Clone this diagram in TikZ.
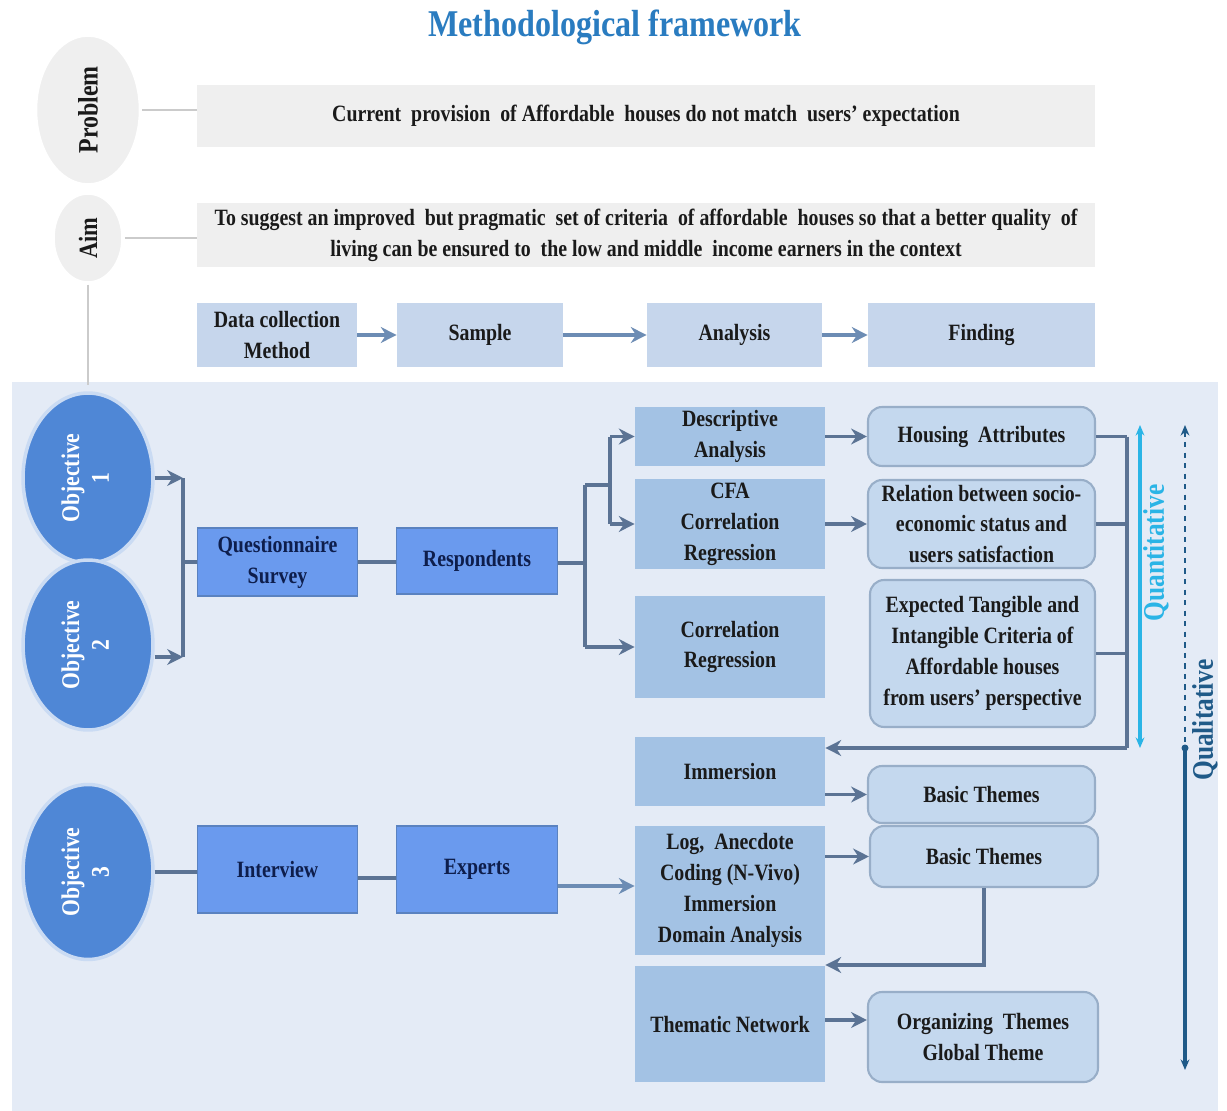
\documentclass[tikz,border=0pt]{standalone}
\usepackage{fontspec}
\setmainfont{Liberation Serif}[FakeStretch=0.85]
\usetikzlibrary{arrows.meta,shapes.geometric,calc}
\definecolor{panel}{HTML}{E4EBF6}
\definecolor{greyfill}{HTML}{EFEFEF}
\definecolor{topfill}{HTML}{C6D6EC}
\definecolor{midfill}{HTML}{A3C2E4}
\definecolor{brightfill}{HTML}{6A9AEE}
\definecolor{brightdraw}{HTML}{5A82C0}
\definecolor{objfill}{HTML}{4F87D6}
\definecolor{rfill}{HTML}{C4D8EE}
\definecolor{rdraw}{HTML}{98AEC8}
\definecolor{linec}{HTML}{5B7394}
\definecolor{arrc}{HTML}{6C8CB4}
\definecolor{navy}{HTML}{0E1E4C}
\definecolor{titleblue}{HTML}{2A7CC0}
\definecolor{quant}{HTML}{2AB4E6}
\definecolor{qual}{HTML}{1F5A88}
\definecolor{txt}{HTML}{1A1A1A}
\tikzset{
  base/.style={font=\fontsize{13.3}{17.6}\selectfont\bfseries, text=txt, align=center, inner sep=2pt},
  greybox/.style={base, rectangle, fill=greyfill, minimum width=17.96cm},
  greyell/.style={base, ellipse, fill=greyfill, draw=white, line width=2pt, inner sep=0pt},
  topbox/.style={base, rectangle, fill=topfill, minimum height=1.3cm},
  brightbox/.style={base, rectangle, fill=brightfill, draw=brightdraw, line width=0.8pt, text=navy, minimum width=3.21cm},
  midbox/.style={base, rectangle, fill=midfill, minimum width=3.8cm},
  rbox/.style={base, rectangle, rounded corners=8pt, fill=rfill, draw=rdraw, line width=1.2pt},
  objell/.style={base, ellipse, fill=objfill, draw=white!70!objfill, line width=2pt, text=white, minimum width=2.6cm, inner sep=0pt},
  conn/.style={draw=linec, line width=1.8pt},
  lconn/.style={draw=greyfill!85!black, line width=1.6pt},
  arr/.style={draw=arrc, line width=1.8pt, -{Stealth[length=9pt,width=9pt]}},
  barr/.style={draw=linec, line width=1.8pt, -{Stealth[length=9pt,width=9pt]}},
}
\begin{document}
\begin{tikzpicture}[x=0.02cm,y=-0.02cm]
\useasboundingbox (0,0) rectangle (1227,1111);
\fill[white] (0,0) rectangle (1227,1111);
\fill[panel] (12,382) rectangle (1218,1111);

% title
\node[font=\fontsize{21.5}{25}\selectfont\bfseries, text=titleblue] (title) at (615,27) {Methodological framework};

% problem / aim
\node[greyell, minimum width=2.1cm, minimum height=3.0cm] (prob) at (88,110) {\rotatebox{90}{\fontsize{16}{18}\selectfont\bfseries Problem}};
\node[greyell, minimum width=1.4cm, minimum height=1.8cm] (aim) at (88,238) {\rotatebox{90}{\fontsize{15}{17}\selectfont\bfseries Aim}};
\node[greybox, minimum height=1.26cm] (probbox) at (646,116) {Current\ \ provision\ \ of Affordable\ \ houses do not\ match\ \ users' expectation};
\node[greybox, minimum height=1.3cm] (aimbox) at (646,235) {To suggest an improved\ \ but\ pragmatic\ \ set of criteria\ \ of\ affordable\ \ houses so that\ a better quality\ \ of\\living can be ensured to\ \ the low\ and\ middle\ \ income\ earners\ in the context};
\draw[lconn] (prob.east) -- (probbox.west |- prob.east);
\draw[lconn] (aim.east) -- (aimbox.west |- aim.east);
\coordinate (aimend) at (88,385);
\draw[lconn] (aim.south) -- (aimend);

% top row
\node[topbox, minimum width=3.2cm] (dcm) at (277,335) {Data collection\\Method};
\node[topbox, minimum width=3.32cm] (sample) at (480,335) {Sample};
\node[topbox, minimum width=3.5cm] (analysis) at (734.5,335) {Analysis};
\node[topbox, minimum width=4.54cm] (finding) at (981.5,335) {Finding};
\draw[arr] (dcm) -- (sample);
\draw[arr] (sample) -- (analysis);
\draw[arr] (analysis) -- (finding);

% objectives
\node[objell, minimum height=3.4cm] (obj1) at (88,478) {\rotatebox{90}{\fontsize{14.5}{17}\selectfont\bfseries\begin{tabular}{@{}c@{}}Objective\\1\end{tabular}}};
\node[objell, minimum height=3.4cm] (obj2) at (88,645) {\rotatebox{90}{\fontsize{14.5}{17}\selectfont\bfseries\begin{tabular}{@{}c@{}}Objective\\2\end{tabular}}};
\node[objell, minimum height=3.5cm] (obj3) at (88,872) {\rotatebox{90}{\fontsize{14.5}{17}\selectfont\bfseries\begin{tabular}{@{}c@{}}Objective\\3\end{tabular}}};

% bright boxes
\node[brightbox, minimum height=1.36cm] (quest) at (277.5,562) {Questionnaire\\Survey};
\node[brightbox, minimum height=1.32cm] (resp) at (477,561) {Respondents};
\node[brightbox, minimum height=1.74cm] (interv) at (277.5,869.5) {Interview};
\node[brightbox, minimum height=1.74cm] (experts) at (477,869.5) {Experts};

% middle column
\node[midbox, minimum height=1.18cm] (desc) at (730,436.5) {Descriptive\\Analysis};
\node[midbox, minimum height=1.76cm] (cfa) at (730,524) {CFA\\Correlation\\Regression};
\node[midbox, minimum height=2.04cm] (corr) at (730,647) {Correlation\\Regression};
\node[midbox, minimum height=1.38cm] (imm) at (730,771.5) {Immersion};
\node[midbox, minimum height=2.58cm] (log) at (730,890.5) {Log,\ \ Anecdote\\Coding (N-Vivo)\\Immersion\\Domain Analysis};
\node[midbox, minimum height=2.32cm] (them) at (730,1024) {Thematic Network};

% right column
\node[rbox, minimum width=4.54cm, minimum height=1.18cm] (house) at (981.5,436.5) {Housing\ \ Attributes};
\node[rbox, minimum width=4.54cm, minimum height=1.76cm] (rel) at (981.5,524) {Relation between socio-\\economic\ status\ and\\users satisfaction};
\node[rbox, minimum width=4.5cm, minimum height=2.94cm] (exp) at (982.5,653.5) {Expected Tangible\ and\\Intangible\ Criteria\ of\\Affordable\ houses\\from\ users' perspective};
\node[rbox, minimum width=4.54cm, minimum height=1.14cm] (basic1) at (981.5,794.5) {Basic Themes};
\node[rbox, minimum width=4.56cm, minimum height=1.22cm] (basic2) at (984,856.5) {Basic Themes};
\node[rbox, minimum width=4.6cm, minimum height=1.8cm] (org) at (983,1037) {Organizing\ \ Themes\\Global Theme};

% objective connectors
\coordinate (b1) at (183,478);
\coordinate (b2) at (183,657);
\draw[barr] (obj1.east |- b1) -- (b1);
\draw[barr] (obj2.east |- b2) -- (b2);
\draw[conn] (b1) -- (b2);
\draw[conn] (183,562) -- (quest.west);
\draw[conn] (quest.east) -- (resp.west |- quest.east);
\draw[conn] (obj3.east) -- (interv.west |- obj3.east);
\draw[conn] (interv.east |- 0,878) -- (experts.west |- 0,878);

% respondents branching
\coordinate (r0) at (585,563);
\coordinate (r1) at (585,485);
\coordinate (r2) at (610,485);
\draw[conn] (resp.east |- r0) -- (r0);
\draw[conn] (r1) -- (r0 |- corr.west);
\draw[conn] (r1) -- (r2);
\draw[conn] (r2 |- desc.west) -- (r2 |- cfa.west);
\draw[barr] (r2 |- desc.west) -- (desc.west);
\draw[barr] (r2 |- cfa.west) -- (cfa.west);
\draw[barr] (r0 |- corr.west) -- (corr.west);

% middle -> right
\draw[barr] (desc.east) -- (house.west);
\draw[barr] (cfa.east) -- (rel.west);
\draw[barr] (imm.east |- basic1.west) -- (basic1.west);
\draw[barr] (log.east |- basic2.west) -- (basic2.west);
\draw[barr] (them.east |- 0,1020) -- (org.west |- 0,1020);
\draw[arr] (experts.east |- 0,886) -- (log.west |- 0,886);

% right bracket back to immersion
\coordinate (k0) at (1127,436.5);
\coordinate (k1) at (1127,748);
\draw[conn] (house.east) -- (k0);
\draw[conn] (rel.east) -- (rel.east -| k0);
\draw[conn] (exp.east) -- (exp.east -| k0);
\draw[conn] (k0) -- (k1);
\draw[barr] (k1) -- (imm.east |- k1);

% basic themes back to thematic
\coordinate (t0) at (984,965);
\draw[barr] (basic2.south) -- (t0) -- (log.east |- t0);

% quantitative / qualitative
\coordinate (q0) at (1140,425);
\coordinate (q1) at (1140,748);
\draw[draw=quant, line width=1.8pt, {Stealth[length=6pt,width=5pt]}-{Stealth[length=6pt,width=5pt]}] (q0) -- (q1);
\node[font=\fontsize{17}{19}\selectfont\bfseries, text=quant, rotate=90] (quantl) at (1156,553) {Quantitative};
\coordinate (p0) at (1185,425);
\coordinate (p1) at (1185,748);
\coordinate (p2) at (1185,1070);
\draw[draw=qual, line width=1.4pt, dashed, {Stealth[length=6pt,width=5pt]}-] (p0) -- (p1);
\draw[draw=qual, line width=1.8pt, -{Stealth[length=6pt,width=5pt]}] (p1) -- (p2);
\fill[qual] (p1) circle (3.5);
\node[font=\fontsize{17}{19}\selectfont\bfseries, text=qual, rotate=90] (quall) at (1205,720) {Qualitative};
\end{tikzpicture}
\end{document}
